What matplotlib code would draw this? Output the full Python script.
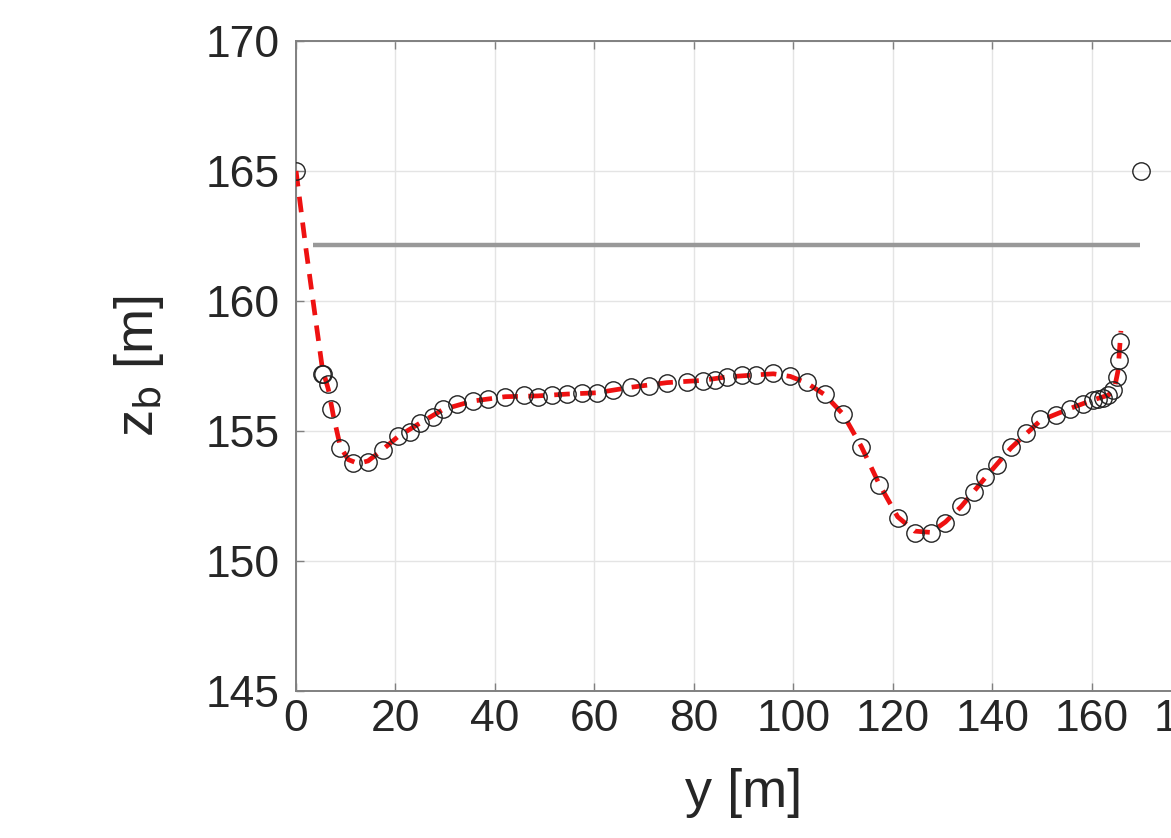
import matplotlib
matplotlib.use("Agg")
import matplotlib.pyplot as plt

plt.rcParams['font.family'] = ['Liberation Sans', 'DejaVu Sans']
plt.rcParams['mathtext.default'] = 'regular'

# measured bed points (y [m], z_b [m])
meas_y = [0.0, 5.2, 5.4, 6.5, 7.0, 8.9, 11.5, 14.5, 17.4, 20.6, 22.9, 24.9, 27.6, 29.6,
          32.3, 35.5, 38.7, 42.1, 45.8, 48.6, 51.5, 54.5, 57.5, 60.5, 63.8, 67.3, 70.9,
          74.6, 78.6, 81.9, 84.3, 86.6, 89.6, 92.6, 96.0, 99.4, 102.7, 106.3, 110.0,
          113.7, 117.3, 121.0, 124.4, 127.7, 130.6, 133.8, 136.3, 138.6, 141.0, 143.8,
          146.8, 149.7, 152.8, 155.6, 158.2, 160.2, 161.3, 162.3, 163.4, 164.4, 165.2,
          165.6, 165.8, 170.0]
meas_z = [165.0, 157.2, 157.19, 156.8, 155.85, 154.35, 153.76, 153.8, 154.28, 154.8,
          154.97, 155.3, 155.55, 155.83, 156.04, 156.15, 156.22, 156.32, 156.38, 156.3,
          156.38, 156.42, 156.47, 156.45, 156.58, 156.68, 156.73, 156.86, 156.88, 156.93,
          156.96, 157.08, 157.14, 157.15, 157.22, 157.12, 156.9, 156.42, 155.65, 154.4,
          152.92, 151.64, 151.09, 151.09, 151.47, 152.1, 152.67, 153.24, 153.69, 154.4,
          154.91, 155.45, 155.62, 155.86, 156.05, 156.19, 156.22, 156.27, 156.38, 156.58,
          157.08, 157.73, 158.42, 165.0]

# fitted bed profile (red dashed)
fit_y = [0.0, 2.0, 4.0, 5.3, 6.5, 7.5, 8.9, 10.5, 12.5, 14.5, 17.4, 20.6, 24.9, 29.6,
         35.5, 42.1, 48.6, 54.5, 60.5, 67.3, 74.6, 81.9, 86.6, 92.6, 96.0, 99.4, 102.7,
         106.3, 110.0, 113.7, 117.3, 121.0, 124.4, 127.7, 130.6, 133.8, 138.6, 143.8,
         149.7, 155.6, 160.2, 163.4, 164.6, 165.3, 165.9]
fit_z = [165.0, 162.0, 159.2, 157.4, 156.6, 155.6, 154.4, 153.9, 153.75, 153.85, 154.28,
         154.8, 155.3, 155.83, 156.15, 156.32, 156.35, 156.42, 156.47, 156.68, 156.86,
         156.95, 157.08, 157.16, 157.2, 157.1, 156.85, 156.4, 155.65, 154.4, 152.95,
         151.7, 151.15, 151.1, 151.5, 152.1, 153.2, 154.35, 155.4, 155.86, 156.19,
         156.38, 156.65, 157.3, 158.85]

# water level (grey)
wl_y = [3.4, 169.8]
wl_z = [162.15, 162.15]

x_ticks = [0, 20, 40, 60, 80, 100, 120, 140, 160, 180]
y_ticks = [145, 150, 155, 160, 165, 170]

fig = plt.figure(figsize=(11.71, 8.38), dpi=100)
ax = fig.add_axes([0.2528, 0.1754, 0.7643, 0.7757])

ax.plot(wl_y, wl_z, color='#999999', lw=3.2, solid_capstyle='butt', zorder=2)
ax.plot(fit_y, fit_z, color='#ee1111', lw=3.4, ls=(0, (3.3, 2.2)), zorder=3)
ax.plot(meas_y, meas_z, ls='none', marker='o', ms=12.5, mfc='none', mec='#222222',
        mew=1.0, zorder=4)

ax.set_xlim(0, 180)
ax.set_ylim(145, 170)
ax.set_xticks(x_ticks)
ax.set_yticks(y_ticks)
ax.grid(True, color='#e4e4e4', lw=1.0)
ax.set_axisbelow(True)
for s in ax.spines.values():
    s.set_color('#808080')
    s.set_linewidth(1.4)
ax.tick_params(direction='in', length=6, width=1.0, color='#808080',
               labelsize=32, labelcolor='#262626', top=True, right=True)
ax.tick_params(axis='y', pad=12)
ax.tick_params(axis='x', pad=6)
ax.set_xlabel('y [m]', fontsize=39, color='#262626', labelpad=20)
ax.set_ylabel('z$_\\mathrm{b}$ [m]', fontsize=39, color='#262626', labelpad=28)

fig.savefig('out.png', dpi=100)
